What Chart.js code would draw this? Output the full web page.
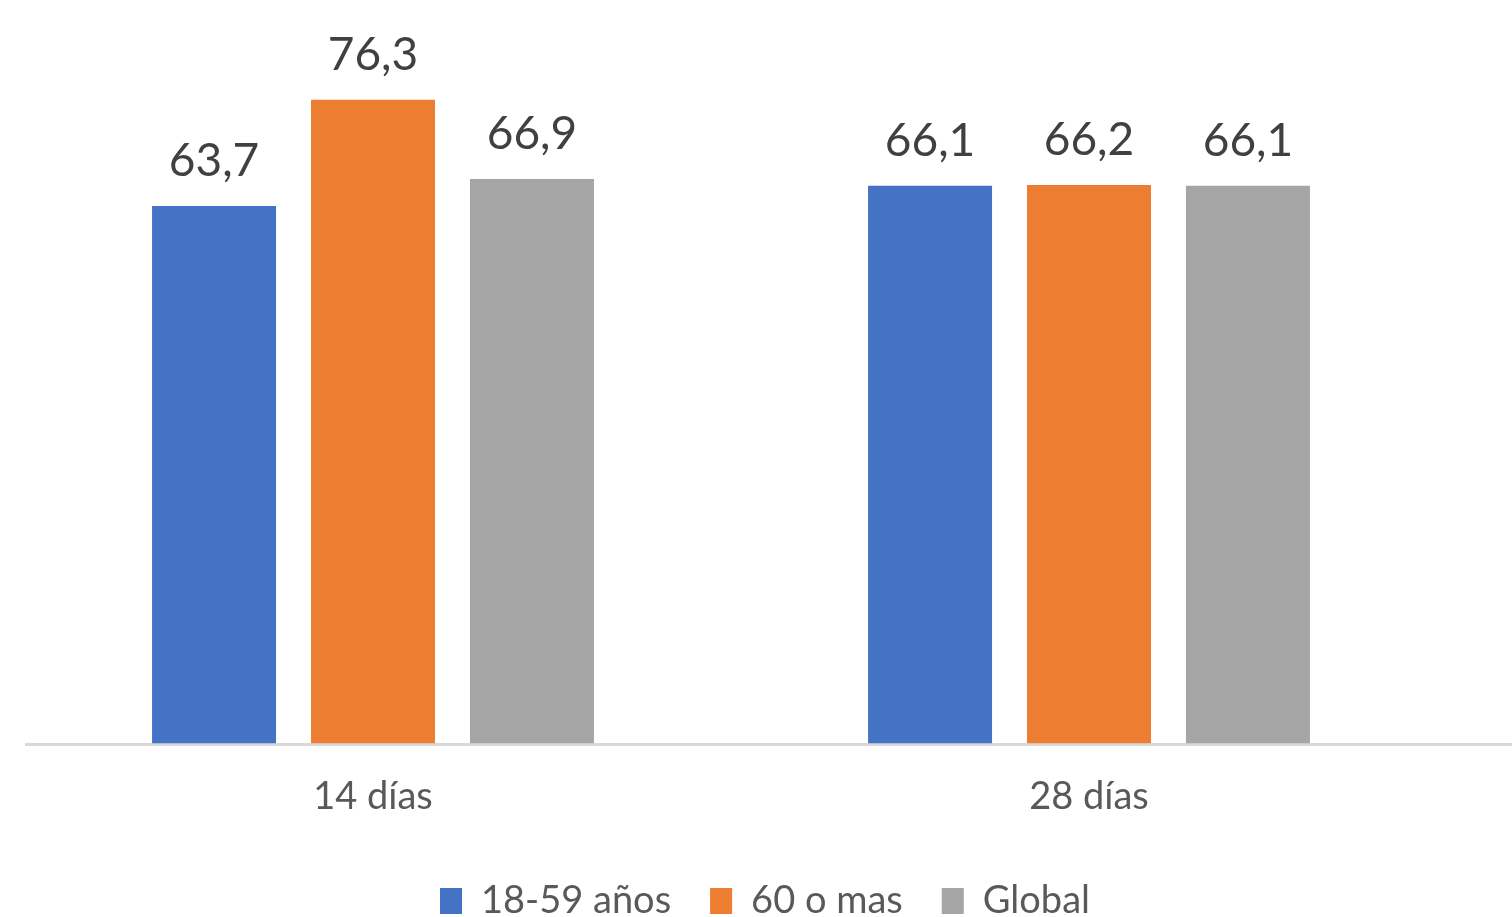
<!DOCTYPE html>
<html>
<head>
<meta charset="utf-8">
<script src="https://cdn.jsdelivr.net/npm/chart.js@4/dist/chart.umd.min.js"></script>
<style>
  html, body { margin: 0; padding: 0; background: #fff; }
  #wrap { width: 1512px; height: 917px; }
</style>
</head>
<body>
<div id="wrap"><canvas id="chart"></canvas></div>
<script>
const categorias = ['14 días', '28 días']
const grupos = ['18-59 años', '60 o mas', 'Global']
const valores1859 = [63.7, 66.1]
const valores60 = [76.3, 66.2]
const valoresGlobal = [66.9, 66.1]
const colores = ['#4472C4', '#ED7D31', '#A5A5A5']

// etiquetas de valor encima de cada barra (coma decimal)
const etiquetas = {
  id: 'etiquetas',
  afterDatasetsDraw(chart) {
    const ctx = chart.ctx
    ctx.save()
    ctx.font = '46px Lato'
    ctx.fillStyle = '#404040'
    ctx.textAlign = 'center'
    ctx.textBaseline = 'bottom'
    chart.data.datasets.forEach((ds, i) => {
      chart.getDatasetMeta(i).data.forEach((bar, j) => {
        ctx.fillText(ds.data[j].toFixed(1).replace('.', ','), bar.x, bar.y - 22)
      })
    })
    ctx.restore()
  }
}

// línea base del eje x + leyenda centrada en el lienzo
const lineaBase = {
  id: 'lineaBase',
  afterLayout(chart) {
    chart.legend.left += 34
    chart.legend.right += 34
  },
  beforeDatasetsDraw(chart) {
    const ctx = chart.ctx
    const y = chart.scales.y.getPixelForValue(0)
    ctx.save()
    ctx.strokeStyle = '#D9D9D9'
    ctx.lineWidth = 3
    ctx.beginPath()
    ctx.moveTo(25, y + 1)
    ctx.lineTo(chart.width, y + 1)
    ctx.stroke()
    ctx.restore()
  }
}

const series = [valores1859, valores60, valoresGlobal]

new Chart(document.getElementById('chart'), {
  type: 'bar',
  data: {
    labels: categorias,
    datasets: series.map((d, i) => ({
      label: grupos[i],
      data: d,
      backgroundColor: colores[i],
      barPercentage: 0.78,
      categoryPercentage: 0.666
    }))
  },
  options: {
    responsive: true,
    maintainAspectRatio: false,
    animation: false,
    layout: { padding: { left: 15, right: 65, top: 1, bottom: -13 } },
    scales: {
      y: { display: false, min: 0, max: 88 },
      x: {
        grid: { display: false },
        border: { display: false },
        ticks: { color: '#595959', font: { family: 'Lato', size: 38 }, padding: 23 }
      }
    },
    plugins: {
      legend: {
        position: 'bottom',
        labels: {
          color: '#595959',
          font: { family: 'Lato', size: 38 },
          boxWidth: 22,
          boxHeight: 26,
          padding: 39
        }
      },
      tooltip: { enabled: false }
    }
  },
  plugins: [etiquetas, lineaBase]
})
</script>
</body>
</html>
